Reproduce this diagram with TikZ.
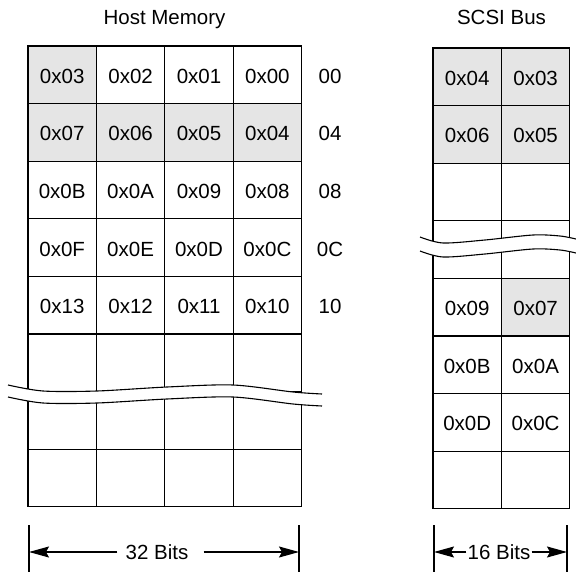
\documentclass[tikz,border=0pt]{standalone}
\usepackage{fontspec}
\setmainfont{Liberation Sans}
\usetikzlibrary{arrows.meta}
\definecolor{cellgray}{HTML}{E5E5E5}
\tikzset{
  cell/.style={draw=black, line width=1.3pt, minimum width=68.4pt, minimum height=57.6pt,
    inner sep=0pt, outer sep=0pt, anchor=north west, text height=17pt, text depth=0pt,
    font=\fontsize{20.5}{24}\selectfont},
  shaded/.style={cell, fill=cellgray},
  addr/.style={inner sep=0pt, text height=17pt, text depth=0pt, font=\fontsize{20.5}{24}\selectfont},
  title/.style={inner sep=0pt, anchor=base, font=\fontsize{20.5}{24}\selectfont},
  dimlabel/.style={inner sep=0pt, font=\fontsize{20.5}{24}\selectfont},
  tick/.style={line width=1.2pt},
  dimarrow/.style={line width=1.3pt, -{Stealth[length=20pt,width=11pt,inset=3pt]}},
  breakline/.style={line width=1.1pt}
}
\begin{document}
\begin{tikzpicture}[x=1pt,y=-1pt]
\useasboundingbox (0,0) rectangle (576,572);
% titles
\node[title] (t1) at (164.5,25) {Host Memory};
\node[title] (t2) at (501.5,25) {SCSI Bus};
% host memory grid
\foreach \r/\a/\b/\c/\d/\fa/\fb/\fc/\fd in {
  0/0x03/0x02/0x01/0x00/shaded/cell/cell/cell,
  1/0x07/0x06/0x05/0x04/shaded/shaded/shaded/shaded,
  2/0x0B/0x0A/0x09/0x08/cell/cell/cell/cell,
  3/0x0F/0x0E/0x0D/0x0C/cell/cell/cell/cell,
  4/0x13/0x12/0x11/0x10/cell/cell/cell/cell,
  5/////cell/cell/cell/cell,
  6/////cell/cell/cell/cell,
  7/////cell/cell/cell/cell}{
  \node[\fa] (h\r a) at (28,{46+57.6*\r}) {\a};
  \node[\fb] (h\r b) at (96.4,{46+57.6*\r}) {\b};
  \node[\fc] (h\r c) at (164.8,{46+57.6*\r}) {\c};
  \node[\fd] (h\r d) at (233.2,{46+57.6*\r}) {\d};
}
% addresses
\node[addr] (ad0) at (330,74.8) {00};
\node[addr] (ad1) at (330,132.4) {04};
\node[addr] (ad2) at (330,190.0) {08};
\node[addr] (ad3) at (330,247.6) {0C};
\node[addr] (ad4) at (330,305.2) {10};
% scsi bus grid
\foreach \r/\a/\b/\fa/\fb in {
  0/0x04/0x03/shaded/shaded,
  1/0x06/0x05/shaded/shaded,
  2///cell/cell,
  3///cell/cell,
  4/0x09/0x07/cell/shaded,
  5/0x0B/0x0A/cell/cell,
  6/0x0D/0x0C/cell/cell,
  7///cell/cell}{
  \node[\fa] (s\r a) at (433,{48+57.6*\r}) {\a};
  \node[\fb] (s\r b) at (501.4,{48+57.6*\r}) {\b};
}
% break marks
\fill[white] plot[smooth] coordinates {(8,385) (43,391) (97,391) (167,387) (233,385) (293,392) (322,394)}
  -- plot[smooth] coordinates {(322,406) (293,404) (233,397) (167,399) (97,403) (43,403) (8,397)} -- cycle;
\draw[breakline] plot[smooth] coordinates {(8,385) (43,391) (97,391) (167,387) (233,385) (293,392) (322,394)};
\draw[breakline] plot[smooth] coordinates {(8,397) (43,403) (97,403) (167,399) (233,397) (293,404) (322,406)};
\fill[white] plot[smooth] coordinates {(420,237) (443,243) (485,240) (533,235) (560,236) (576,239)}
  -- plot[smooth] coordinates {(576,253) (560,250) (533,249) (485,254) (443,257) (420,251)} -- cycle;
\draw[breakline] plot[smooth] coordinates {(420,237) (443,243) (485,240) (533,235) (560,236) (576,239)};
\draw[breakline] plot[smooth] coordinates {(420,251) (443,257) (485,254) (533,249) (560,250) (576,253)};
% dimension: 32 bits
\coordinate (l1t) at (29,525); \coordinate (l1b) at (29,572);
\coordinate (l2t) at (299,525); \coordinate (l2b) at (299,572);
\coordinate (l1m) at (29,552); \coordinate (l2m) at (299,552);
\draw[tick] (l1t) -- (l1b);
\draw[tick] (l2t) -- (l2b);
\node[dimlabel] (w32) at (157,552) {32 Bits};
\draw[dimarrow] ([xshift=-8pt]w32.west) -- (l1m);
\draw[dimarrow] ([xshift=15pt]w32.east) -- (l2m);
% dimension: 16 bits
\coordinate (r1t) at (434,525); \coordinate (r1b) at (434,572);
\coordinate (r2t) at (567,525); \coordinate (r2b) at (567,572);
\coordinate (r1m) at (434,552); \coordinate (r2m) at (567,552);
\draw[tick] (r1t) -- (r1b);
\draw[tick] (r2t) -- (r2b);
\node[dimlabel] (w16) at (499,552) {16 Bits};
\draw[dimarrow] ([xshift=-1pt]w16.west) -- (r1m);
\draw[dimarrow] ([xshift=1pt]w16.east) -- (r2m);
\end{tikzpicture}
\end{document}
